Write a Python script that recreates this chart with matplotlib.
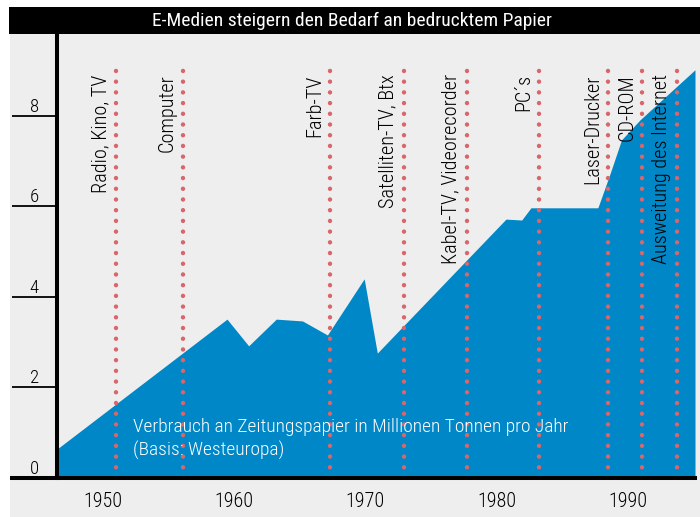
import matplotlib.pyplot as plt
from matplotlib.patches import Rectangle
from matplotlib.lines import Line2D

# Zeitungspapier-Verbrauch Westeuropa (Mio. t)
years = [1946.5, 1959.45, 1961.1, 1963.2, 1965.2, 1967.1, 1969.9, 1970.9,
         1980.7, 1981.9, 1982.6, 1987.7, 1988.6, 1989.5, 1990.9, 1995.1]
values = [0.64, 3.51, 2.92, 3.51, 3.47, 3.16, 4.40, 2.76,
          5.72, 5.70, 5.97, 5.97, 6.70, 7.47, 7.91, 9.02]

# neue Medien
event_years = [1951.0, 1956.1, 1967.3, 1972.9, 1977.7, 1983.2, 1988.5, 1991.1, 1993.7]
event_labels = ["Radio, Kino, TV", "Computer", "Farb-TV", "Satelliten-TV, Btx",
                "Kabel-TV, Videorecorder", "PC\u00b4s", "Laser-Drucker", "CD-ROM",
                "Ausweitung des Internet"]

xticks = [1950, 1960, 1970, 1980, 1990]
yticks = [0, 2, 4, 6, 8]

plt.rcParams['font.family'] = ['Roboto Condensed', 'Fira Sans Condensed',
                               'PT Sans Narrow', 'Archivo Narrow', 'DejaVu Sans']
plt.rcParams['font.weight'] = 'light'

W, H = 700, 517
fig = plt.figure(figsize=(W / 100, H / 100), dpi=100)
fig.patch.set_facecolor('white')

# grey page and black title bar
fig.add_artist(Rectangle((10 / W, 0), 1, 1 - 34 / H, transform=fig.transFigure,
                         facecolor='#eeeeee', edgecolor='none', zorder=0))
fig.add_artist(Rectangle((9 / W, 1 - 34 / H), 1, 27 / H, transform=fig.transFigure,
                         facecolor='black', edgecolor='none', zorder=1))
fig.text(352 / W, 1 - 21 / H, "E-Medien steigern den Bedarf an bedrucktem Papier",
         color='white', fontsize=14, fontweight='normal', ha='center', va='center', zorder=2)

ax = fig.add_axes([57 / W, 1 - 478 / H, (695 - 57) / W, (478 - 34) / H])
ax.set_facecolor('#eeeeee')
ax.fill_between(years, values, 0, color='#0087c8', linewidth=0, zorder=1)

for yr, lab in zip(event_years, event_labels):
    ax.axvline(yr, ymin=0, ymax=9.1 / 9.81, color='#d9666a', lw=3.2,
               linestyle=(0, (0.01, 2.4)), dash_capstyle='round', zorder=2)
    ax.annotate(lab, xy=(yr, 8.92), xytext=(-6, 0), textcoords='offset pixels',
                rotation=90, ha='right', va='top', fontsize=14.6, color='black', zorder=3)

ax.text(1952.3, 0.86, "Verbrauch an Zeitungspapier in Millionen Tonnen pro Jahr\n(Basis: Westeuropa)",
        color='white', fontsize=14, ha='left', va='center', linespacing=1.3, zorder=3)

ax.set_xlim(1946.5, 1995.1)
ax.set_ylim(0, 9.81)
ax.set_xticks(xticks)
ax.set_yticks(yticks)
ax.tick_params(axis='x', length=0, pad=10, labelsize=14.5)
ax.tick_params(axis='y', length=32.4, width=1.3, pad=-19.4, labelsize=13.5)
for t in ax.get_yticklabels():
    t.set_verticalalignment('bottom')

for s in ['top', 'right', 'bottom']:
    ax.spines[s].set_visible(False)
ax.spines['left'].set_linewidth(2.9)

# bottom rule runs past the y axis
fig.add_artist(Line2D([12 / W, 695 / W], [1 - 478 / H] * 2, transform=fig.transFigure,
                      color='black', lw=2.9, zorder=5))

fig.savefig('out.png', dpi=100)
